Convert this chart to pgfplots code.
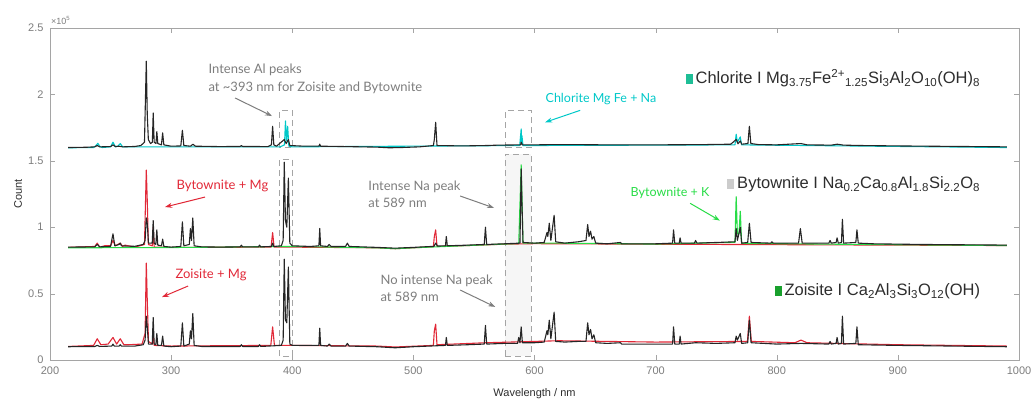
\documentclass[border=0pt]{standalone}
\usepackage{fontspec}
\setmainfont{Liberation Sans}
\newfontfamily\annot{Lato}
\usepackage{pgfplots}
\pgfplotsset{compat=1.18}
\usetikzlibrary{arrows.meta}
\definecolor{cyanP}{RGB}{0,200,200}
\definecolor{tealL}{RGB}{30,190,150}
\definecolor{redP}{RGB}{225,40,55}
\definecolor{greenP}{RGB}{40,220,70}
\definecolor{greenL}{RGB}{25,160,45}
\definecolor{grayT}{RGB}{125,125,125}
\definecolor{axisG}{RGB}{165,165,165}
\definecolor{txtD}{RGB}{45,45,45}
\begin{document}
\begin{tikzpicture}[x=1pt,y=1pt]
\useasboundingbox (0,0) rectangle (1035,405);
\begin{axis}[
  at={(50pt,45pt)}, anchor=south west,
  scale only axis, width=969pt, height=332pt,
  xmin=200, xmax=1000, ymin=0, ymax=2.5,
  xtick={200,300,...,1000},
  ytick={0,0.5,1,1.5,2,2.5},
  yticklabels={0,0.5,1,1.5,2,2.5},
  tick align=inside, major tick length=5pt,
  axis line style={axisG}, tick style={axisG},
  /pgf/number format/assume math mode=true,
  /pgf/number format/1000 sep={},
  tick label style={font=\fontsize{11}{13}\selectfont, text=grayT},
  xticklabel style={yshift=-3pt},
  yticklabel style={xshift=-3pt},
  xlabel={Wavelength / nm}, ylabel={Count},
  label style={font=\fontsize{11}{13}\selectfont, text=txtD},
  xlabel style={at={(axis description cs:0.5,-0.1)}, anchor=center},
  ylabel style={at={(axis description cs:-0.033,0.5)}, anchor=center},
  every axis plot/.append style={line width=1.1pt, line join=round},
]
% Na box fill
\fill[gray!7] (575.7,0.03) rectangle (597.3,1.55);
\draw[axisG, line width=0.8pt, dash pattern=on 6pt off 4pt] (575.7,0.03) rectangle (597.3,1.55);
\draw[axisG, line width=0.8pt, dash pattern=on 6pt off 4pt] (575.7,1.60) rectangle (597.3,1.88);
\draw[axisG, line width=0.8pt, dash pattern=on 6pt off 4pt] (389.5,0.03) rectangle (400.5,1.51);
\draw[axisG, line width=0.8pt, dash pattern=on 6pt off 4pt] (389.5,1.60) rectangle (400.5,1.88);

% ---------- Top: Chlorite ----------
\addplot[cyanP, mark=none] coordinates {
(215,1.598) (236,1.60) (238,1.615) (239.5,1.632) (241,1.61) (243,1.60) (250,1.605) (252,1.64) (254,1.605) (256,1.61) (258,1.63) (260,1.605) (270,1.605) (390,1.605) (393.6,1.62) (394.4,1.80) (395.3,1.65) (396.2,1.76) (397.2,1.61) (400,1.605) (587.8,1.615) (589.0,1.74) (589.3,1.64) (589.6,1.69) (590.5,1.615) (765.5,1.62) (766.5,1.70) (767.5,1.64) (769.9,1.68) (771,1.62) (990,1.60)};
\addplot[black!85, mark=none] coordinates {
(215,1.600) (230,1.602) (237,1.605) (239,1.615) (241,1.605) (250,1.607) (252,1.62) (254,1.607) (257,1.61) (260,1.605) (270,1.608) (275,1.615) (278,1.64) (279.5,2.25) (280.3,1.85) (281.2,1.66) (283,1.63) (284.5,1.64) (285.2,1.86) (286,1.64) (287.5,1.63) (288.2,1.72) (289,1.63) (292,1.62) (293,1.71) (294,1.62) (300,1.61) (308,1.612) (309.3,1.73) (310.5,1.615) (316,1.61) (318,1.625) (320,1.61) (340,1.607) (357,1.608) (358,1.615) (359,1.608) (380,1.607) (382.8,1.62) (383.8,1.76) (384.8,1.62) (387,1.61) (393.4,1.66) (395,1.63) (396.8,1.66) (398,1.615) (410,1.61) (422,1.61) (422.7,1.625) (423.4,1.61) (445,1.607) (470,1.603) (480,1.598) (490,1.600) (505,1.605) (516.5,1.615) (517.3,1.66) (518.4,1.79) (519.5,1.615) (540,1.612) (560,1.615) (570,1.618) (588.5,1.62) (589,1.64) (590,1.62) (600,1.62) (616,1.622) (630,1.622) (660,1.62) (700,1.62) (740,1.622) (762,1.625) (766.5,1.66) (768,1.628) (769.9,1.65) (771,1.625) (776.2,1.63) (777.4,1.76) (778.6,1.63) (785,1.622) (800,1.62) (820,1.63) (825,1.62) (845,1.618) (850,1.625) (855,1.618) (870,1.615) (900,1.612) (950,1.608) (990,1.605)};

% ---------- Middle: Bytownite ----------
\addplot[redP, mark=none] coordinates {
(215,0.848) (237,0.855) (239,0.88) (241,0.85) (245,0.86) (250,0.86) (252,0.9) (254,0.86) (258,0.88) (260,0.855) (262,0.865) (270,0.85) (278,0.87) (279.5,1.43) (280.3,1.2) (281.2,0.87) (284.5,0.86) (285.2,1.0) (286,0.85) (300,0.848) (382.5,0.85) (383.8,0.96) (385,0.85) (400,0.85) (470,0.845) (485,0.838) (500,0.845) (516.5,0.853) (517.3,0.93) (518.4,0.98) (519.5,0.855) (545,0.862) (575,0.872) (600,0.876) (700,0.872) (990,0.862)};
\addplot[greenP, mark=none] coordinates {
(215,0.845) (300,0.847) (400,0.855) (470,0.845) (485,0.838) (500,0.845) (545,0.862) (575,0.873) (587,0.877) (589.0,1.47) (589.6,1.25) (590.5,0.88) (620,0.88) (700,0.873) (765.5,0.886) (766.5,1.23) (767.5,0.95) (768.8,0.95) (769.9,1.12) (771,0.878) (900,0.868) (990,0.862)};
\addplot[black!85, mark=none] coordinates {
(215,0.85) (237,0.852) (239,0.87) (241,0.852) (250,0.855) (252,0.95) (253.5,0.86) (257,0.87) (258,0.88) (259,0.86) (263,0.858) (270,0.856) (277,0.87) (278.5,0.9) (279.5,1.07) (280.3,1.03) (281.3,0.88) (284.4,0.88) (285.2,1.05) (286,0.88) (287.4,0.87) (288.2,0.98) (289,0.865) (292,0.86) (293,0.91) (294,0.855) (300,0.85) (308,0.855) (309.3,1.04) (310.5,0.86) (315,0.87) (315.9,0.99) (316.8,0.9) (317.9,1.07) (319,0.86) (325,0.852) (340,0.85) (357,0.852) (358,0.865) (359,0.852) (372,0.852) (373,0.865) (374,0.852) (382.8,0.855) (383.8,0.88) (384.8,0.855) (391,0.86) (392.5,0.9) (393.4,1.49) (394.4,1.05) (395.5,1.0) (396.8,1.37) (398,0.88) (400,0.86) (415,0.855) (422,0.86) (422.7,0.99) (423.4,0.86) (429,0.855) (430.5,0.87) (432,0.855) (444,0.855) (445.5,0.88) (447,0.855) (470,0.848) (485,0.842) (500,0.848) (517,0.856) (518.4,0.88) (520,0.858) (526.5,0.86) (527.2,0.93) (528,0.86) (545,0.865) (558.5,0.87) (559.5,1.0) (560.5,0.87) (575,0.875) (588,0.88) (589.0,1.44) (589.6,1.2) (590.5,0.885) (600,0.88) (608,0.885) (610.3,0.96) (611,0.93) (612.2,1.03) (613.5,0.9) (616.2,1.09) (617.5,0.89) (625,0.88) (636,0.89) (642.5,0.9) (643.9,1.02) (645,0.93) (646.3,0.97) (647.5,0.91) (649,0.93) (650.5,0.88) (660,0.875) (671,0.885) (672,0.875) (700,0.875) (714,0.88) (714.8,0.98) (715.8,0.88) (719.5,0.88) (720.2,0.92) (721,0.88) (732,0.88) (733,0.9) (734,0.88) (750,0.885) (765.5,0.89) (766.5,0.99) (767.5,0.9) (769.9,1.0) (771,0.88) (776,0.885) (777.4,1.03) (778.8,0.885) (795,0.88) (796,0.89) (797,0.88) (818,0.88) (819.5,0.99) (821,0.88) (843,0.88) (844,0.9) (845,0.88) (849,0.885) (849.8,0.92) (850.8,0.88) (853.4,0.885) (854.2,1.06) (855.2,0.88) (865.3,0.885) (866.2,0.98) (867.3,0.88) (880,0.875) (920,0.87) (990,0.865)};

% ---------- Bottom: Zoisite ----------
\addplot[redP, mark=none] coordinates {
(215,0.102) (236,0.11) (239,0.16) (242,0.115) (248,0.12) (252,0.17) (255,0.12) (258,0.16) (261,0.115) (265,0.115) (276,0.12) (278.5,0.2) (279.5,0.73) (280.3,0.45) (281.3,0.14) (284.5,0.12) (285.2,0.2) (286,0.11) (300,0.105) (382.3,0.11) (383.8,0.25) (385.3,0.11) (400,0.11) (470,0.105) (485,0.098) (516.5,0.11) (517.3,0.22) (518.4,0.27) (519.5,0.115) (560,0.13) (600,0.14) (620,0.145) (700,0.135) (775.8,0.14) (777.4,0.33) (779,0.14) (815,0.13) (820,0.15) (825,0.13) (900,0.115) (990,0.105)};
\addplot[black!85, mark=none] coordinates {
(215,0.10) (237,0.102) (239,0.11) (241,0.102) (251,0.105) (252,0.12) (253,0.105) (257,0.105) (258,0.115) (259,0.105) (270,0.105) (277,0.115) (278.5,0.15) (279.5,0.33) (280.3,0.25) (281.3,0.12) (284.4,0.12) (285.2,0.32) (286,0.12) (287.4,0.115) (288.2,0.2) (289,0.11) (292,0.11) (293,0.18) (294,0.105) (300,0.10) (308,0.105) (309.3,0.28) (310.5,0.105) (315,0.12) (315.9,0.22) (316.8,0.16) (317.9,0.35) (319,0.11) (325,0.102) (357,0.102) (358,0.115) (359,0.102) (372,0.102) (373,0.115) (374,0.102) (391,0.11) (392.5,0.15) (393.4,0.76) (394.4,0.3) (395.5,0.28) (396.8,0.70) (398,0.12) (400,0.11) (422,0.11) (422.7,0.24) (423.4,0.11) (429,0.105) (430.5,0.12) (432,0.105) (444,0.105) (445.5,0.125) (447,0.105) (470,0.10) (485,0.092) (500,0.10) (526.5,0.11) (527.2,0.17) (528,0.11) (545,0.115) (558.5,0.12) (559.5,0.26) (560.5,0.12) (575,0.125) (586,0.125) (587,0.17) (588,0.13) (589,0.25) (590,0.13) (600,0.13) (608,0.135) (610.3,0.22) (611,0.19) (612.2,0.3) (613.5,0.16) (616.2,0.36) (617.5,0.14) (625,0.135) (636,0.14) (642.5,0.14) (643.9,0.28) (645,0.19) (646.3,0.23) (647.5,0.16) (649,0.19) (650.5,0.13) (660,0.125) (671,0.13) (672,0.12) (700,0.12) (714,0.12) (714.8,0.25) (715.8,0.12) (719.5,0.12) (720.2,0.18) (721,0.12) (733,0.13) (750,0.125) (765.5,0.13) (766.5,0.18) (767.5,0.15) (769.9,0.2) (771,0.125) (776,0.13) (777.4,0.30) (778.8,0.13) (800,0.12) (820,0.125) (843,0.12) (844,0.14) (845,0.12) (849,0.125) (849.8,0.17) (850.8,0.12) (853.4,0.125) (854.2,0.33) (855.2,0.12) (865.3,0.125) (866.2,0.25) (867.3,0.115) (900,0.11) (990,0.10)};

% ---------- annotations ----------
\node[anchor=west, align=left, text=grayT, font=\annot\fontsize{13}{18}\selectfont] at (axis cs:328,2.116) {Intense Al peaks\\at \textasciitilde393 nm for Zoisite and Bytownite};
\draw[-{Stealth[length=7pt,width=5pt]}, grayT, line width=1pt] (axis cs:352.8,1.973) -- (axis cs:383.3,1.837);

\node[anchor=west, text=cyanP, font=\annot\fontsize{12.5}{15}\selectfont] at (axis cs:606.3,1.965) {Chlorite Mg Fe + Na};
\draw[-{Stealth[length=7pt,width=5pt]}, cyanP, line width=1pt] (axis cs:637.7,1.88) -- (axis cs:608.8,1.79);

\node[anchor=west, align=left, text=grayT, font=\annot\fontsize{13}{17}\selectfont] at (axis cs:460,1.246) {Intense Na peak\\at 589 nm};
\draw[-{Stealth[length=7pt,width=5pt]}, grayT, line width=1pt] (axis cs:538.6,1.235) -- (axis cs:566.6,1.145);

\node[anchor=west, align=left, text=grayT, font=\annot\fontsize{13}{17}\selectfont] at (axis cs:470,0.542) {No intense Na peak\\at 589 nm};
\draw[-{Stealth[length=7pt,width=5pt]}, grayT, line width=1pt] (axis cs:538.6,0.527) -- (axis cs:567.5,0.40);

\node[anchor=west, text=redP, font=\annot\fontsize{13}{15}\selectfont] at (axis cs:301.6,1.31) {Bytownite + Mg};
\draw[-{Stealth[length=7pt,width=5pt]}, redP, line width=1pt] (axis cs:328,1.227) -- (axis cs:295,1.152);

\node[anchor=west, text=redP, font=\annot\fontsize{13}{15}\selectfont] at (axis cs:300.7,0.64) {Zoisite + Mg};
\draw[-{Stealth[length=7pt,width=5pt]}, redP, line width=1pt] (axis cs:314,0.557) -- (axis cs:292.5,0.474);

\node[anchor=west, text=greenP, font=\annot\fontsize{12.5}{15}\selectfont] at (axis cs:676.5,1.257) {Bytownite + K};
\draw[-{Stealth[length=7pt,width=5pt]}, greenP, line width=1pt] (axis cs:728.5,1.18) -- (axis cs:753,1.05);

% ---------- mineral labels ----------
\node[anchor=east, inner sep=0pt, text=txtD, font=\fontsize{16.5}{20}\selectfont] at (axis cs:968,2.12) {\textcolor{tealL}{\rule{7pt}{10pt}}\,Chlorite I Mg\textsubscript{3.75}Fe\textsuperscript{2+}\textsubscript{1.25}Si\textsubscript{3}Al\textsubscript{2}O\textsubscript{10}(OH)\textsubscript{8}};
\node[anchor=east, inner sep=0pt, text=txtD, font=\fontsize{16.5}{20}\selectfont] at (axis cs:968,1.323) {\textcolor{gray!40}{\rule{7pt}{10pt}}\,Bytownite I Na\textsubscript{0.2}Ca\textsubscript{0.8}Al\textsubscript{1.8}Si\textsubscript{2.2}O\textsubscript{8}};
\node[anchor=east, inner sep=0pt, text=txtD, font=\fontsize{16.5}{20}\selectfont] at (axis cs:968,0.517) {\textcolor{greenL}{\rule{7pt}{10pt}}\,Zoisite I Ca\textsubscript{2}Al\textsubscript{3}Si\textsubscript{3}O\textsubscript{12}(OH)};
\end{axis}
\node[anchor=south west, inner sep=0pt, text=grayT, font=\fontsize{9}{11}\selectfont] at (51,380) {×10\textsuperscript{5}};
\end{tikzpicture}
\end{document}
